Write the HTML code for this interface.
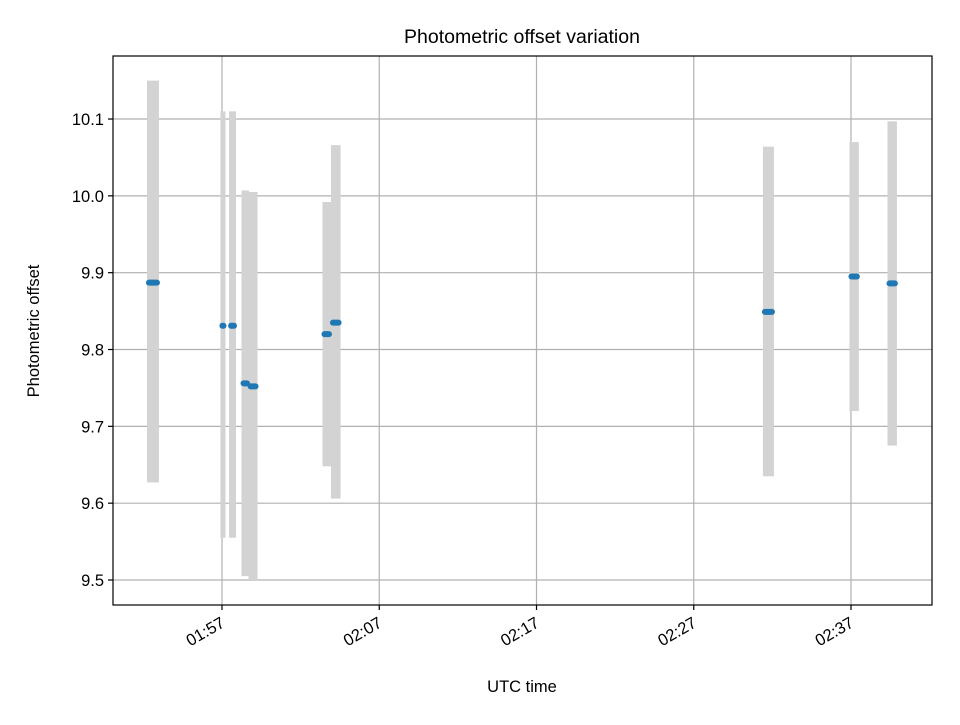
<!DOCTYPE html>
<html><head><meta charset="utf-8"><style>
html,body{margin:0;padding:0;background:#fff;}
svg text{font-family:"Liberation Sans","DejaVu Sans",sans-serif;fill:#000;}
</style></head><body>
<svg id="chart" width="960" height="720" xmlns="http://www.w3.org/2000/svg">
<rect x="0" y="0" width="960" height="720" fill="#fff"/>
<g id="grid"></g>
<g id="bars"></g>
<g id="pts"></g>
<rect x="113" y="56" width="819" height="549" fill="none" stroke="#000" stroke-width="1.2"/>
<g id="ticks"></g>
<text x="522" y="43" font-size="19.5" text-anchor="middle">Photometric offset variation</text>
<text x="522" y="692" font-size="16.5" text-anchor="middle">UTC time</text>
<text x="39" y="331" font-size="16.5" text-anchor="middle" transform="rotate(-90 39 331)">Photometric offset</text>
</svg>
<script>
// times in minutes since 00:00 UTC
const tStart = [112.23,116.90,117.45,118.24,118.69,123.39,123.93,151.40,156.90,159.32];
const tEnd   = [112.99,117.22,117.89,118.72,119.26,123.93,124.54,152.10,157.50,159.92];
const values = [9.887,9.831,9.831,9.756,9.752,9.820,9.835,9.849,9.895,9.886];
const lowVals  = [9.627,9.555,9.555,9.505,9.500,9.648,9.606,9.635,9.720,9.675];
const highVals = [10.150,10.110,10.110,10.007,10.005,9.992,10.066,10.064,10.070,10.097];
const yTicks = [9.5,9.6,9.7,9.8,9.9,10.0,10.1];
const xTicks = [117,127,137,147,157];
const xTickLabels = ["01:57","02:07","02:17","02:27","02:37"];

const NS="http://www.w3.org/2000/svg";
const L=113,R=932,T=56,B=605;
const x = t => 222 + (t-117)*15.725;
const y = v => 580 - (v-9.5)*768.3;
function mk(tag,attrs,parent){const e=document.createElementNS(NS,tag);for(const k in attrs)e.setAttribute(k,attrs[k]);parent.appendChild(e);return e;}
const grid=document.getElementById('grid'),ticks=document.getElementById('ticks'),bars=document.getElementById('bars'),pts=document.getElementById('pts');

yTicks.forEach(v=>{
  const g=mk('line',{x1:L,x2:R,y1:y(v),y2:y(v),stroke:'#b0b0b0','stroke-width':1.2},grid);
  
  
  const tk=mk('line',{x1:L-5,x2:L,y1:y(v),y2:y(v),stroke:'#000','stroke-width':1.2},ticks);
  
  
  const tx=mk('text',{x:L-9,y:y(v)+6,'font-size':16.5,'text-anchor':'end'},ticks);
  tx.textContent=v.toFixed(1);
  
  
});
xTicks.forEach((t,i)=>{
  const g=mk('line',{x1:x(t),x2:x(t),y1:T,y2:B,stroke:'#b0b0b0','stroke-width':1.2},grid);
  
  
  const tk=mk('line',{x1:x(t),x2:x(t),y1:B,y2:B+5,stroke:'#000','stroke-width':1.2},ticks);
  
  
  const px=x(t)+4,py=B+21;
  const tx=mk('text',{x:px,y:py,'font-size':16.5,'text-anchor':'end',transform:`rotate(-30 ${px} ${py})`},ticks);
  tx.textContent=xTickLabels[i];
  
  
});
values.forEach((v,i)=>{
  const x0=x(tStart[i]),x1=x(tEnd[i]);
  const r=mk('rect',{x:x0,y:y(highVals[i]),width:Math.max(1,x1-x0),height:y(lowVals[i])-y(highVals[i]),fill:'#d3d3d3'},bars);
  
  
  const p=mk('line',{x1:x0+2,x2:Math.max(x0+2,x1-2),y1:y(v),y2:y(v),stroke:'#1f77b4','stroke-width':6,'stroke-linecap':'round'},pts);
  
  
});
</script>
</body></html>
